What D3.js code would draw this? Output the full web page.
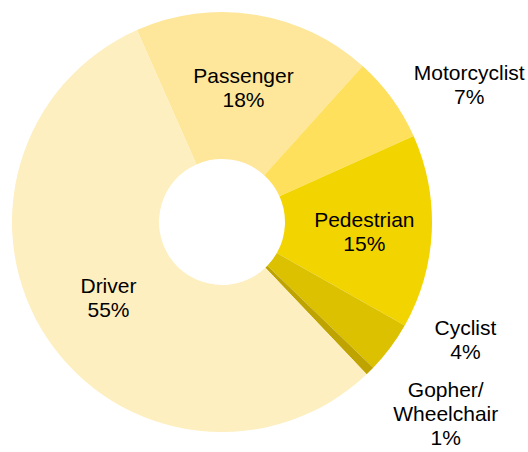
<!DOCTYPE html>
<html>
<head>
<meta charset="utf-8">
<script src="https://cdn.jsdelivr.net/npm/d3@7"></script>
<style>
  body { margin: 0; background: #fff; }
  text { font-family: "Liberation Sans", Arial, sans-serif; }
</style>
</head>
<body>
<div id="chart"></div>
<script>
// road user type share (donut)

const categories = ['Passenger', 'Motorcyclist', 'Pedestrian', 'Cyclist', 'Gopher/\nWheelchair', 'Driver']
const shares = [18.3, 6.6, 14.9, 4.0, 0.7, 55.4]

const colors = ['#fee79a', '#fee05d', '#f2d500', '#dcc100', '#bfa300', '#feefc0']
// labels outside the ring, and a small nudge per label (px)
const outside = [false, true, false, true, true, false]
const labelNudge = [[0, 0], [33, 19], [6, 3], [31, -41], [37, 4], [0, 0]]

const width = 528
const height = 452
const cx = 222
const cy = 222
const outerR = 210
const innerR = 63

const svg = d3.select('#chart')
  .append('svg')
  .attr('width', width)
  .attr('height', height)

const g = svg.append('g')
  .attr('transform', 'translate(' + cx + ',' + cy + ')')

const start = -23.9 * Math.PI / 180
const pie = d3.pie()
  .sort(null)
  .value(d => d.value)
  .startAngle(start)
  .endAngle(start + 2 * Math.PI)

const data = categories.map((c, i) => ({ name: c, value: shares[i], i: i }))
const total = d3.sum(shares)
const arcs = pie(data)

const arc = d3.arc().innerRadius(innerR).outerRadius(outerR)
const labelArc = d3.arc().innerRadius(265).outerRadius(265)

g.selectAll('path')
  .data(arcs)
  .enter().append('path')
  .attr('d', arc)
  .style('fill', d => colors[d.data.i])

const lineH = 24
const labels = g.selectAll('g.label')
  .data(arcs)
  .enter().append('g')
  .attr('class', 'label')
  .attr('transform', function (d) {
    const p = outside[d.data.i] ? labelArc.centroid(d) : arc.centroid(d)
    const n = labelNudge[d.data.i]
    return 'translate(' + (p[0] + n[0]) + ',' + (p[1] + n[1]) + ')'
  })

labels.each(function (d) {
  const lines = d.data.name.split('\n')
  lines.push(Math.round(d.data.value / total * 100) + '%')
  const top = -(lines.length - 1) * lineH / 2
  const t = d3.select(this).append('text')
    .attr('text-anchor', 'middle')
    .style('font-size', '21px')
    .style('fill', '#000')
  lines.forEach(function (s, k) {
    t.append('tspan')
      .attr('x', 0)
      .attr('y', top + k * lineH)
      .attr('dy', '0.35em')
      .text(s)
  })
})
</script>
</body>
</html>
